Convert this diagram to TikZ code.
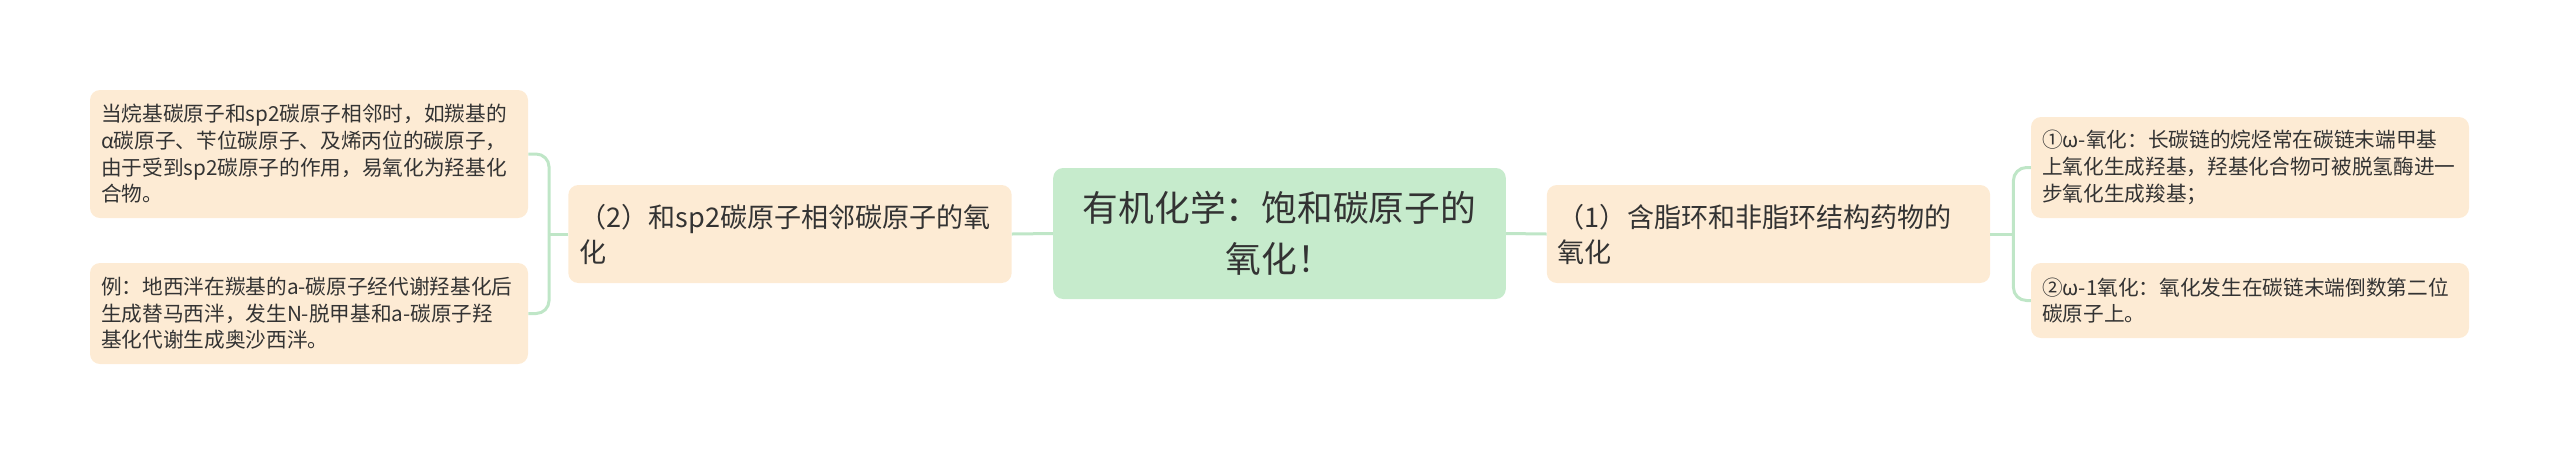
\documentclass[tikz,border=0pt]{standalone}
\usepackage{fontspec}
\setmainfont{Noto Sans CJK SC}
\definecolor{rootfill}{HTML}{C6EBCC}
\definecolor{leaffill}{HTML}{FDEBD4}
\definecolor{linkgreen}{HTML}{BFE6C7}
\definecolor{inkgray}{HTML}{333333}
\tikzset{
  box/.style={fill=leaffill, rounded corners=7.5pt, text=inkgray, inner xsep=8.25pt, inner ysep=0pt, align=left},
  leaf/.style={box, text width=312pt, font=\fontsize{15.5pt}{20pt}\selectfont},
  branch/.style={box, text width=316pt, minimum height=73.5pt, font=\fontsize{20.3pt}{26.25pt}\selectfont},
  rootbox/.style={box, fill=rootfill, align=center, text width=323pt, minimum height=98.25pt, font=\fontsize{26.8pt}{38.25pt}\selectfont},
  link/.style={draw=linkgreen, line width=2.25pt}
}
\begin{document}
\begin{tikzpicture}[x=0.75pt, y=-0.75pt]
\useasboundingbox (0,0) rectangle (2560,455);
\node[rootbox] (root) at (1279.5,233.5) {有机化学：饱和碳原子的\\氧化！};
\node[branch] (n2) at (790,234) {（2）和sp2碳原子相邻碳原子的氧\\化};
\node[branch] (n1) at (1768.5,234) {（1）含脂环和非脂环结构药物的\\氧化};
\node[leaf, minimum height=96pt] (l1) at (309,154) {当烷基碳原子和sp2碳原子相邻时，如羰基的\\α碳原子、苄位碳原子、及烯丙位的碳原子，\\由于受到sp2碳原子的作用，易氧化为羟基化\\合物。};
\node[leaf, minimum height=75.75pt] (l2) at (309,313.5) {例：地西泮在羰基的a-碳原子经代谢羟基化后\\生成替马西泮，发生N-脱甲基和a-碳原子羟\\基化代谢生成奥沙西泮。};
\node[leaf, minimum height=75.75pt] (r1) at (2250,167.5) {①ω-氧化：长碳链的烷烃常在碳链末端甲基\\上氧化生成羟基，羟基化合物可被脱氢酶进一\\步氧化生成羧基；};
\node[leaf, minimum height=56.25pt] (r2) at (2250,300.5) {②ω-1氧化：氧化发生在碳链末端倒数第二位\\碳原子上。};
% brackets
\coordinate (bl) at ([xshift=-14.25pt]n2.west);
\coordinate (br) at ([xshift=17.25pt]n1.east);
\draw[link] (root.west) -- (n2.east);
\draw[link] (root.east) -- (n1.west);
\draw[link] (n2.west) -- (bl);
\draw[link] (n1.east) -- (br);
\draw[link, rounded corners=9.75pt] (l1.east) -| (bl) |- (l2.east);
\draw[link, rounded corners=9.75pt] (r1.west) -| (br) |- (r2.west);
\end{tikzpicture}
\end{document}
